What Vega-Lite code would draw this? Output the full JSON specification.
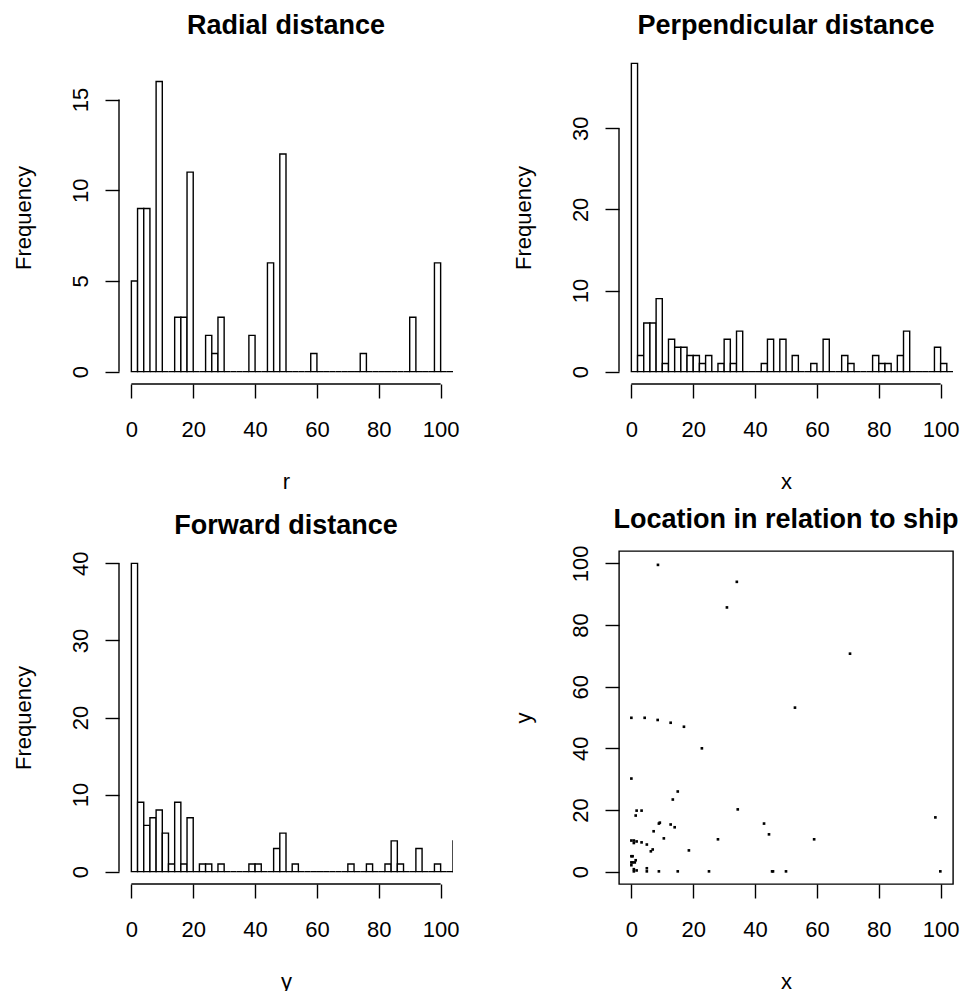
{
  "$schema": "https://vega.github.io/schema/vega-lite/v6.json",
  "background": "white",
  "padding": {"left": 12, "top": 12, "right": 0, "bottom": 0},
  "bounds": "flush",
  "columns": 2,
  "spacing": {"row": 167, "column": 166},
  "datasets": {
    "radial": [
      {"x0":0,"x1":2,"n":5},{"x0":2,"x1":4,"n":9},{"x0":4,"x1":6,"n":9},{"x0":6,"x1":8,"n":0},{"x0":8,"x1":10,"n":16},
      {"x0":10,"x1":12,"n":0},{"x0":12,"x1":14,"n":0},{"x0":14,"x1":16,"n":3},{"x0":16,"x1":18,"n":3},{"x0":18,"x1":20,"n":11},
      {"x0":20,"x1":22,"n":0},{"x0":22,"x1":24,"n":0},{"x0":24,"x1":26,"n":2},{"x0":26,"x1":28,"n":1},{"x0":28,"x1":30,"n":3},
      {"x0":30,"x1":32,"n":0},{"x0":32,"x1":34,"n":0},{"x0":34,"x1":36,"n":0},{"x0":36,"x1":38,"n":0},{"x0":38,"x1":40,"n":2},
      {"x0":40,"x1":42,"n":0},{"x0":42,"x1":44,"n":0},{"x0":44,"x1":46,"n":6},{"x0":46,"x1":48,"n":0},{"x0":48,"x1":50,"n":12},
      {"x0":50,"x1":52,"n":0},{"x0":52,"x1":54,"n":0},{"x0":54,"x1":56,"n":0},{"x0":56,"x1":58,"n":0},{"x0":58,"x1":60,"n":1},
      {"x0":60,"x1":62,"n":0},{"x0":62,"x1":64,"n":0},{"x0":64,"x1":66,"n":0},{"x0":66,"x1":68,"n":0},{"x0":68,"x1":70,"n":0},
      {"x0":70,"x1":72,"n":0},{"x0":72,"x1":74,"n":0},{"x0":74,"x1":76,"n":1},{"x0":76,"x1":78,"n":0},{"x0":78,"x1":80,"n":0},
      {"x0":80,"x1":82,"n":0},{"x0":82,"x1":84,"n":0},{"x0":84,"x1":86,"n":0},{"x0":86,"x1":88,"n":0},{"x0":88,"x1":90,"n":0},
      {"x0":90,"x1":92,"n":3},{"x0":92,"x1":94,"n":0},{"x0":94,"x1":96,"n":0},{"x0":96,"x1":98,"n":0},{"x0":98,"x1":100,"n":6},
      {"x0":100,"x1":102,"n":0},{"x0":102,"x1":104,"n":0},{"x0":104,"x1":106,"n":0}
    ],
    "perp": [
      {"x0":0,"x1":2,"n":38},{"x0":2,"x1":4,"n":2},{"x0":4,"x1":6,"n":6},{"x0":6,"x1":8,"n":6},{"x0":8,"x1":10,"n":9},
      {"x0":10,"x1":12,"n":1},{"x0":12,"x1":14,"n":4},{"x0":14,"x1":16,"n":3},{"x0":16,"x1":18,"n":3},{"x0":18,"x1":20,"n":2},
      {"x0":20,"x1":22,"n":2},{"x0":22,"x1":24,"n":1},{"x0":24,"x1":26,"n":2},{"x0":26,"x1":28,"n":0},{"x0":28,"x1":30,"n":1},
      {"x0":30,"x1":32,"n":4},{"x0":32,"x1":34,"n":1},{"x0":34,"x1":36,"n":5},{"x0":36,"x1":38,"n":0},{"x0":38,"x1":40,"n":0},
      {"x0":40,"x1":42,"n":0},{"x0":42,"x1":44,"n":1},{"x0":44,"x1":46,"n":4},{"x0":46,"x1":48,"n":0},{"x0":48,"x1":50,"n":4},
      {"x0":50,"x1":52,"n":0},{"x0":52,"x1":54,"n":2},{"x0":54,"x1":56,"n":0},{"x0":56,"x1":58,"n":0},{"x0":58,"x1":60,"n":1},
      {"x0":60,"x1":62,"n":0},{"x0":62,"x1":64,"n":4},{"x0":64,"x1":66,"n":0},{"x0":66,"x1":68,"n":0},{"x0":68,"x1":70,"n":2},
      {"x0":70,"x1":72,"n":1},{"x0":72,"x1":74,"n":0},{"x0":74,"x1":76,"n":0},{"x0":76,"x1":78,"n":0},{"x0":78,"x1":80,"n":2},
      {"x0":80,"x1":82,"n":1},{"x0":82,"x1":84,"n":1},{"x0":84,"x1":86,"n":0},{"x0":86,"x1":88,"n":2},{"x0":88,"x1":90,"n":5},
      {"x0":90,"x1":92,"n":0},{"x0":92,"x1":94,"n":0},{"x0":94,"x1":96,"n":0},{"x0":96,"x1":98,"n":0},{"x0":98,"x1":100,"n":3},
      {"x0":100,"x1":102,"n":1},{"x0":102,"x1":104,"n":0},{"x0":104,"x1":106,"n":0}
    ],
    "forward": [
      {"x0":0,"x1":2,"n":40},{"x0":2,"x1":4,"n":9},{"x0":4,"x1":6,"n":6},{"x0":6,"x1":8,"n":7},{"x0":8,"x1":10,"n":8},
      {"x0":10,"x1":12,"n":5},{"x0":12,"x1":14,"n":1},{"x0":14,"x1":16,"n":9},{"x0":16,"x1":18,"n":1},{"x0":18,"x1":20,"n":7},
      {"x0":20,"x1":22,"n":0},{"x0":22,"x1":24,"n":1},{"x0":24,"x1":26,"n":1},{"x0":26,"x1":28,"n":0},{"x0":28,"x1":30,"n":1},
      {"x0":30,"x1":32,"n":0},{"x0":32,"x1":34,"n":0},{"x0":34,"x1":36,"n":0},{"x0":36,"x1":38,"n":0},{"x0":38,"x1":40,"n":1},
      {"x0":40,"x1":42,"n":1},{"x0":42,"x1":44,"n":0},{"x0":44,"x1":46,"n":0},{"x0":46,"x1":48,"n":3},{"x0":48,"x1":50,"n":5},
      {"x0":50,"x1":52,"n":0},{"x0":52,"x1":54,"n":1},{"x0":54,"x1":56,"n":0},{"x0":56,"x1":58,"n":0},{"x0":58,"x1":60,"n":0},
      {"x0":60,"x1":62,"n":0},{"x0":62,"x1":64,"n":0},{"x0":64,"x1":66,"n":0},{"x0":66,"x1":68,"n":0},{"x0":68,"x1":70,"n":0},
      {"x0":70,"x1":72,"n":1},{"x0":72,"x1":74,"n":0},{"x0":74,"x1":76,"n":0},{"x0":76,"x1":78,"n":1},{"x0":78,"x1":80,"n":0},
      {"x0":80,"x1":82,"n":0},{"x0":82,"x1":84,"n":1},{"x0":84,"x1":86,"n":4},{"x0":86,"x1":88,"n":1},{"x0":88,"x1":90,"n":0},
      {"x0":90,"x1":92,"n":0},{"x0":92,"x1":94,"n":3},{"x0":94,"x1":96,"n":0},{"x0":96,"x1":98,"n":0},{"x0":98,"x1":100,"n":1},
      {"x0":100,"x1":102,"n":0},{"x0":102,"x1":104,"n":0},{"x0":104,"x1":106,"n":4}
    ],
    "ship": [
      {"x":8.6,"y":99.5},{"x":34.1,"y":94.0},{"x":30.9,"y":85.7},{"x":70.7,"y":70.7},{"x":52.9,"y":53.2},
      {"x":0.0,"y":49.9},{"x":4.3,"y":49.9},{"x":8.5,"y":49.2},{"x":12.7,"y":48.3},{"x":17.0,"y":47.0},
      {"x":22.8,"y":40.0},{"x":0.0,"y":30.2},{"x":15.0,"y":26.0},{"x":13.4,"y":23.4},{"x":1.7,"y":19.8},
      {"x":3.3,"y":19.8},{"x":34.4,"y":20.2},{"x":1.4,"y":18.2},{"x":98.3,"y":17.6},{"x":8.9,"y":15.6},
      {"x":9.2,"y":15.9},{"x":12.7,"y":15.3},{"x":14.0,"y":14.4},{"x":42.9,"y":15.6},{"x":7.2,"y":13.1},
      {"x":44.5,"y":12.1},{"x":10.5,"y":10.8},{"x":28.0,"y":10.5},{"x":59.1,"y":10.5},{"x":0.0,"y":10.1},
      {"x":0.8,"y":10.1},{"x":0.8,"y":9.3},{"x":1.7,"y":9.8},{"x":3.3,"y":9.5},{"x":5.0,"y":8.8},
      {"x":6.9,"y":7.2},{"x":6.3,"y":6.6},{"x":18.6,"y":6.9},{"x":0.0,"y":5.0},{"x":0.4,"y":5.0},
      {"x":1.4,"y":3.7},{"x":0.0,"y":3.0},{"x":0.4,"y":3.0},{"x":1.1,"y":3.0},{"x":0.0,"y":2.1},
      {"x":0.8,"y":0.8},{"x":0.8,"y":0.1},{"x":1.7,"y":0.4},{"x":5.0,"y":1.1},{"x":5.0,"y":0.1},
      {"x":8.9,"y":0.1},{"x":15.0,"y":0.1},{"x":25.1,"y":0.1},{"x":45.5,"y":0.1},{"x":45.8,"y":0.1},
      {"x":50.0,"y":0.1},{"x":99.9,"y":0.1}
    ]
  },
  "concat": [
    {
      "width": 334, "height": 333,
      "title": {"text": "Radial distance"},
      "layer": [
        {
          "data": {"name": "radial"},
          "mark": {"type": "rect", "fill": "white", "stroke": "black", "strokeWidth": 1.4, "clip": true},
          "encoding": {
            "x": {"field": "x0", "type": "quantitative", "scale": {"domain": [-4, 104], "nice": false, "zero": false}, "axis": {"title": "r", "values": [0, 20, 40, 60, 80, 100]}},
            "x2": {"field": "x1"},
            "y": {"field": "n", "type": "quantitative", "scale": {"domain": [-0.68, 17.68], "nice": false, "zero": false}, "axis": {"title": "Frequency", "values": [0, 5, 10, 15]}},
            "y2": {"datum": 0}
          }
        },
        {
          "data": {"values": [{}]},
          "mark": {"type": "rule", "stroke": "black", "strokeWidth": 1.4},
          "encoding": {"x": {"datum": 0}, "x2": {"datum": 100}, "y": {"datum": -0.68}}
        },
        {
          "data": {"values": [{}]},
          "mark": {"type": "rule", "stroke": "black", "strokeWidth": 1.4},
          "encoding": {"x": {"datum": -4}, "y": {"datum": 0}, "y2": {"datum": 15}}
        }
      ]
    },
    {
      "width": 334, "height": 333,
      "title": {"text": "Perpendicular distance"},
      "layer": [
        {
          "data": {"name": "perp"},
          "mark": {"type": "rect", "fill": "white", "stroke": "black", "strokeWidth": 1.4, "clip": true},
          "encoding": {
            "x": {"field": "x0", "type": "quantitative", "scale": {"domain": [-4, 104], "nice": false, "zero": false}, "axis": {"title": "x", "values": [0, 20, 40, 60, 80, 100]}},
            "x2": {"field": "x1"},
            "y": {"field": "n", "type": "quantitative", "scale": {"domain": [-1.52, 39.52], "nice": false, "zero": false}, "axis": {"title": "Frequency", "values": [0, 10, 20, 30]}},
            "y2": {"datum": 0}
          }
        },
        {
          "data": {"values": [{}]},
          "mark": {"type": "rule", "stroke": "black", "strokeWidth": 1.4},
          "encoding": {"x": {"datum": 0}, "x2": {"datum": 100}, "y": {"datum": -1.52}}
        },
        {
          "data": {"values": [{}]},
          "mark": {"type": "rule", "stroke": "black", "strokeWidth": 1.4},
          "encoding": {"x": {"datum": -4}, "y": {"datum": 0}, "y2": {"datum": 30}}
        }
      ]
    },
    {
      "width": 334, "height": 333,
      "title": {"text": "Forward distance"},
      "layer": [
        {
          "data": {"name": "forward"},
          "mark": {"type": "rect", "fill": "white", "stroke": "black", "strokeWidth": 1.4, "clip": true},
          "encoding": {
            "x": {"field": "x0", "type": "quantitative", "scale": {"domain": [-4, 104], "nice": false, "zero": false}, "axis": {"title": "y", "values": [0, 20, 40, 60, 80, 100]}},
            "x2": {"field": "x1"},
            "y": {"field": "n", "type": "quantitative", "scale": {"domain": [-1.6, 41.6], "nice": false, "zero": false}, "axis": {"title": "Frequency", "values": [0, 10, 20, 30, 40]}},
            "y2": {"datum": 0}
          }
        },
        {
          "data": {"values": [{}]},
          "mark": {"type": "rule", "stroke": "black", "strokeWidth": 1.4},
          "encoding": {"x": {"datum": 0}, "x2": {"datum": 100}, "y": {"datum": -1.6}}
        },
        {
          "data": {"values": [{}]},
          "mark": {"type": "rule", "stroke": "black", "strokeWidth": 1.4},
          "encoding": {"x": {"datum": -4}, "y": {"datum": 0}, "y2": {"datum": 40}}
        }
      ]
    },
    {
      "width": 334, "height": 333,
      "title": {"text": "Location in relation to ship"},
      "view": {"stroke": "black", "strokeWidth": 1.4},
      "data": {"name": "ship"},
      "mark": {"type": "square", "filled": true, "color": "black", "size": 7, "opacity": 1},
      "encoding": {
        "x": {"field": "x", "type": "quantitative", "scale": {"domain": [-4, 104], "nice": false, "zero": false}, "axis": {"title": "x", "values": [0, 20, 40, 60, 80, 100]}},
        "y": {"field": "y", "type": "quantitative", "scale": {"domain": [-4, 104], "nice": false, "zero": false}, "axis": {"title": "y", "values": [0, 20, 40, 60, 80, 100]}}
      }
    }
  ],
  "config": {
    "view": {"stroke": null},
    "font": "Liberation Sans",
    "title": {"font": "Liberation Sans", "fontSize": 27, "fontWeight": "bold", "color": "black", "anchor": "middle", "frame": "group", "baseline": "alphabetic", "offset": 11},
    "axis": {
      "domain": false, "grid": false,
      "ticks": true, "tickSize": 14, "tickColor": "black", "tickWidth": 1.4,
      "labelFont": "Liberation Sans", "labelFontSize": 22, "labelColor": "black",
      "labelFlush": false, "labelOverlap": false,
      "titleFont": "Liberation Sans", "titleFontSize": 22, "titleFontWeight": "normal", "titleColor": "black"
    },
    "axisX": {"labelAngle": 0, "labelBaseline": "alphabetic", "labelPadding": 38, "titleBaseline": "alphabetic", "titleY": 104},
    "axisY": {"labelAngle": 270, "labelAlign": "center", "labelBaseline": "alphabetic", "labelPadding": 18, "titleAngle": 270, "titleAlign": "center", "titleBaseline": "alphabetic", "titleX": -89}
  }
}
